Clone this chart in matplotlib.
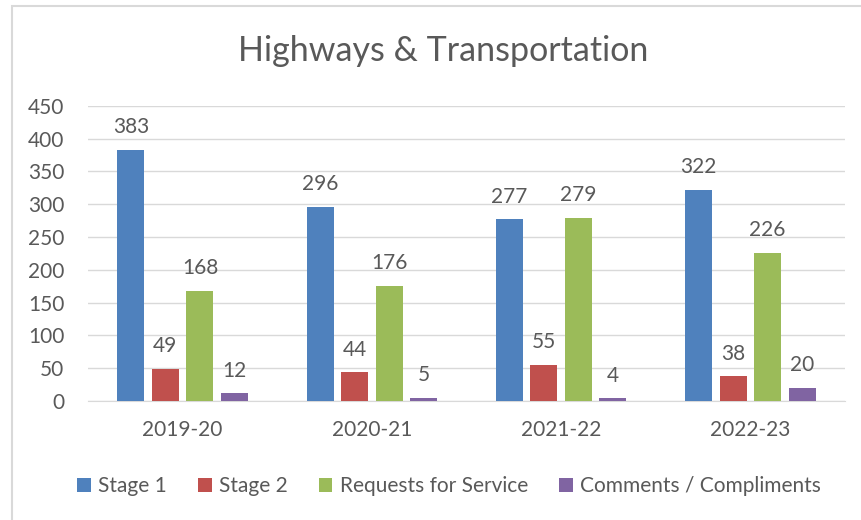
import numpy as np
import matplotlib.pyplot as plt
from matplotlib.patches import Rectangle

years = ["2019-20", "2020-21", "2021-22", "2022-23"]
stage1 = [383, 296, 277, 322]
stage2 = [49, 44, 55, 38]
requests_for_service = [168, 176, 279, 226]
comments = [12, 5, 4, 20]

series = [
    ("Stage 1", stage1, "#4F81BD"),
    ("Stage 2", stage2, "#C0504D"),
    ("Requests for Service", requests_for_service, "#9BBB59"),
    ("Comments / Compliments", comments, "#8064A2"),
]

text_col = "#595959"
fs = 15
plt.rcParams["font.family"] = ["Lato", "DejaVu Sans"]

fig = plt.figure(figsize=(8.61, 5.2), dpi=100)
ax = fig.add_axes([88 / 861, 1 - 401 / 520, (845 - 88) / 861, (401 - 105.7) / 520])

x = np.arange(len(years))
step = 0.1825
width = 0.143
for i, (name, vals, col) in enumerate(series):
    pos = x + (i - 1.5) * step
    bars = ax.bar(pos, vals, width, color=col, label=name, zorder=3)
    for b, v in zip(bars, vals):
        ax.annotate(str(v), (b.get_x() + b.get_width() / 2, v),
                    xytext=(0, 9), textcoords="offset points",
                    ha="center", va="bottom", fontsize=fs, color=text_col)

ax.set_xlim(-0.5, 3.5)
ax.set_ylim(0, 450)
ax.set_yticks(range(0, 451, 50))
ax.set_xticks(x)
ax.set_xticklabels(years)
ax.yaxis.grid(True, color="#D9D9D9", linewidth=1, zorder=0)
for s in ["top", "right", "left"]:
    ax.spines[s].set_visible(False)
ax.spines["bottom"].set_color("#D9D9D9")
ax.tick_params(axis="both", length=0, colors=text_col, labelsize=fs)
ax.tick_params(axis="y", pad=17)
ax.tick_params(axis="x", pad=14)

fig.text(443 / 861, 1 - 51 / 520, "Highways & Transportation", ha="center", va="center",
         fontsize=24.5, color=text_col)

fig.legend(loc="center", bbox_to_anchor=(449 / 861, 1 - 486 / 520), ncol=4, frameon=False,
           fontsize=fs, labelcolor=text_col, handlelength=0.65, handleheight=0.65,
           handletextpad=0.35, columnspacing=1.5)

fig.patches.append(Rectangle((12 / 861, -0.1), 1.2, 1.1 - 6 / 520, transform=fig.transFigure,
                             fill=False, edgecolor="#D9D9D9", linewidth=1.5))

fig.savefig("out.png", dpi=100)
